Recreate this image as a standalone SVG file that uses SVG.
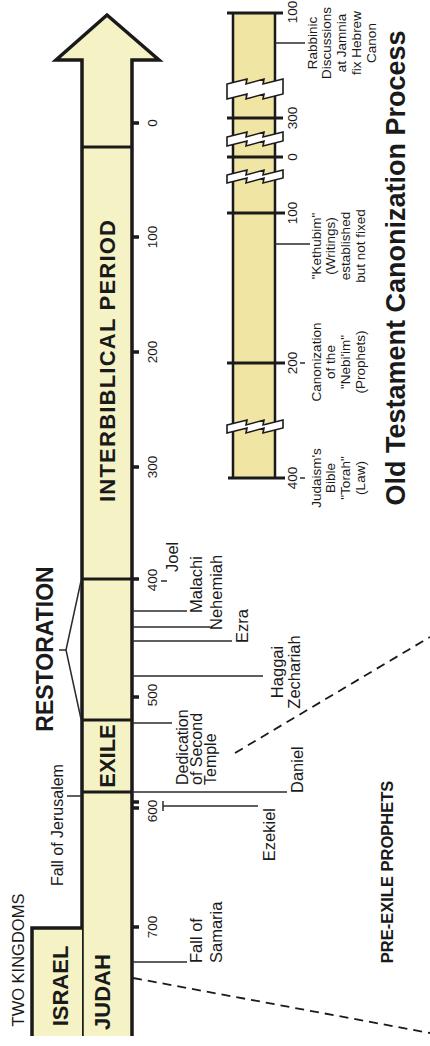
<svg xmlns="http://www.w3.org/2000/svg" width="430" height="1046" viewBox="0 0 430 1046">
<style>
.t{font-family:"Liberation Sans",Arial,sans-serif;fill:#1a1a1a}
.b{font-weight:bold}
.yr{font-size:13.5px;text-anchor:middle}
.ev{font-size:16.5px}
.cn{font-size:13.5px;text-anchor:middle}
.ln{stroke:#2a2a2a;stroke-width:1.5;fill:none}
.tk{stroke:#1a1a1a;stroke-width:3.5}
.dv{stroke:#1a1a1a;stroke-width:3}
.ds{stroke:#1a1a1a;stroke-width:1.8;stroke-dasharray:9 6;fill:none}
.bk{stroke:#1a1a1a;stroke-width:1.6;fill:#fff}
</style>
<rect width="430" height="1046" fill="#fff"/>
<g id="main-arrow">
<polygon points="82,1036 82,60 56,60 107,15 159,60 132,60 132,1036" fill="#f5f3c6"/>
<path d="M82,1036 L82,60 L56,60 L107,15 L159,60 L132,60 L132,1036" fill="none" stroke="#1a1a1a" stroke-width="3.5"/>
<line class="dv" x1="82" y1="147" x2="132" y2="147"/>
<line class="dv" x1="82" y1="579" x2="132" y2="579"/>
<line class="dv" x1="82" y1="720" x2="132" y2="720"/>
<line class="dv" x1="82" y1="792" x2="132" y2="792"/>
<text class="t b" font-size="22" text-anchor="middle" textLength="282" lengthAdjust="spacing" transform="translate(115,361) rotate(-90)">INTERBIBLICAL PERIOD</text>
<text class="t b" font-size="22" text-anchor="middle" transform="translate(115,756) rotate(-90)">EXILE</text>
<text class="t b" font-size="22" text-anchor="middle" transform="translate(110,992) rotate(-90)">JUDAH</text>
</g>
<g id="israel">
<rect x="32" y="928" width="50" height="108" fill="#f5f3c6"/>
<path d="M82,928 L32,928 L32,1036" fill="none" stroke="#1a1a1a" stroke-width="3.5"/>
<text class="t b" font-size="22" text-anchor="middle" transform="translate(68,986) rotate(-90)">ISRAEL</text>
</g>
<g id="labels-left">
<text class="t" font-size="16.5" text-anchor="middle" transform="translate(24,960) rotate(-90)">TWO KINGDOMS</text>
<text class="t" font-size="16" text-anchor="middle" transform="translate(63,825) rotate(-90)">Fall of Jerusalem</text>
<text class="t b" font-size="23" text-anchor="middle" transform="translate(53,649) rotate(-90)">RESTORATION</text>
</g>
<g id="years">
<line class="tk" x1="132" y1="123" x2="139" y2="123"/>
<line class="tk" x1="132" y1="237" x2="139" y2="237"/>
<line class="tk" x1="132" y1="352" x2="139" y2="352"/>
<line class="tk" x1="132" y1="467" x2="139" y2="467"/>
<line class="tk" x1="132" y1="579" x2="139" y2="579"/>
<line class="tk" x1="132" y1="697" x2="139" y2="697"/>
<line class="tk" x1="132" y1="802" x2="139" y2="802"/>
<line class="tk" x1="132" y1="808" x2="139" y2="808"/>
<line class="tk" x1="132" y1="927" x2="139" y2="927"/>
<text class="t yr" transform="translate(157,123) rotate(-90)">0</text>
<text class="t yr" transform="translate(157,237) rotate(-90)">100</text>
<text class="t yr" transform="translate(157,352) rotate(-90)">200</text>
<text class="t yr" transform="translate(157,467) rotate(-90)">300</text>
<text class="t yr" transform="translate(157,580) rotate(-90)">400</text>
<text class="t yr" transform="translate(157,695) rotate(-90)">500</text>
<text class="t yr" transform="translate(157,811) rotate(-90)">600</text>
<text class="t yr" transform="translate(157,927) rotate(-90)">700</text>
</g>
<g id="connectors">
<polyline class="ln" points="81,581 66,650 81,719"/>
<line class="ln" x1="59" y1="650" x2="66" y2="650"/>
<line class="ln" x1="67" y1="796" x2="82" y2="796"/>
<line class="ln" x1="161" y1="581" x2="167" y2="581"/>
<line class="ln" x1="132" y1="611" x2="187" y2="611"/>
<line class="ln" x1="132" y1="627" x2="210" y2="627"/>
<line class="ln" x1="132" y1="641" x2="232" y2="641"/>
<line class="ln" x1="132" y1="676" x2="263" y2="676"/>
<line class="ln" x1="132" y1="723" x2="172" y2="723"/>
<line class="ln" x1="132" y1="792" x2="287" y2="792"/>
<line class="ln" x1="163" y1="806" x2="258" y2="806"/>
<line class="ln" x1="163" y1="801" x2="163" y2="811"/>
<line class="ln" x1="132" y1="962" x2="187" y2="962"/>
<line class="ds" x1="133" y1="978" x2="430" y2="1033"/>
<line class="ds" x1="235" y1="753" x2="430" y2="637"/>
</g>
<g id="events">
<text class="t ev" transform="translate(178,572) rotate(-90)">Joel</text>
<text class="t ev" transform="translate(202,613) rotate(-90)">Malachi</text>
<text class="t ev" transform="translate(222,630) rotate(-90)">Nehemiah</text>
<text class="t ev" transform="translate(248,643) rotate(-90)">Ezra</text>
<text class="t ev" text-anchor="middle" transform="translate(283,672) rotate(-90)">Haggai</text>
<text class="t ev" text-anchor="middle" transform="translate(300,672) rotate(-90)">Zechariah</text>
<text class="t" font-size="16" transform="translate(188,785) rotate(-90)">Dedication</text>
<text class="t" font-size="16" transform="translate(202,785) rotate(-90)">of Second</text>
<text class="t" font-size="16" transform="translate(216,785) rotate(-90)">Temple</text>
<text class="t ev" transform="translate(303,793) rotate(-90)">Daniel</text>
<text class="t ev" text-anchor="end" transform="translate(275,808) rotate(-90)">Ezekiel</text>
<text class="t ev" transform="translate(202,963) rotate(-90)">Fall of</text>
<text class="t ev" transform="translate(222,963) rotate(-90)">Samaria</text>
<text class="t b" font-size="16.5" text-anchor="middle" transform="translate(393,872) rotate(-90)">PRE-EXILE PROPHETS</text>
</g>
<g id="canon-bar">
<rect x="233" y="13" width="42" height="465" fill="#f0e5a3"/>
<line stroke="#1a1a1a" stroke-width="2.5" x1="233" y1="13" x2="233" y2="478"/>
<line stroke="#1a1a1a" stroke-width="2.5" x1="275" y1="13" x2="275" y2="478"/>
<path class="bk" d="M227,84 L247,79 L246,84 L264,79 L263,84 L283,79 L283,94 L263,99 L264,94 L246,99 L247,94 L227,99 Z"/>
<path class="bk" d="M227,137 L247,132 L246,137 L264,132 L263,137 L283,132 L283,141 L263,146 L264,141 L246,146 L247,141 L227,146 Z"/>
<path class="bk" d="M227,175 L247,170 L246,175 L264,170 L263,175 L283,170 L283,178 L263,183 L264,178 L246,183 L247,178 L227,183 Z"/>
<path class="bk" d="M227,425 L247,420 L246,425 L264,420 L263,425 L283,420 L283,428 L263,433 L264,428 L246,433 L247,428 L227,433 Z"/>
<line class="dv" stroke-width="2" x1="227" y1="13" x2="283" y2="13"/>
<line class="dv" stroke-width="2" x1="227" y1="118" x2="283" y2="118"/>
<line class="dv" stroke-width="2" x1="227" y1="157" x2="283" y2="157"/>
<line class="dv" stroke-width="2" x1="227" y1="213" x2="285" y2="213"/>
<line class="dv" stroke-width="2" x1="227" y1="363" x2="285" y2="363"/>
<line class="dv" stroke-width="2" x1="228" y1="478" x2="285" y2="478"/>
<line class="ln" x1="275" y1="43" x2="305" y2="43"/>
<line class="ln" x1="275" y1="244" x2="310" y2="244"/>
<line class="ln" x1="300" y1="363" x2="305" y2="363"/>
<line class="ln" x1="300" y1="478" x2="305" y2="478"/>
<text class="t cn" transform="translate(297,12) rotate(-90)">100</text>
<text class="t cn" transform="translate(297,118) rotate(-90)">300</text>
<text class="t cn" transform="translate(297,157) rotate(-90)">0</text>
<text class="t cn" transform="translate(297,213) rotate(-90)">100</text>
<text class="t cn" transform="translate(297,363) rotate(-90)">200</text>
<text class="t cn" transform="translate(297,478) rotate(-90)">400</text>
</g>
<g id="canon-labels">
<text class="t cn" transform="translate(317,43) rotate(-90)">Rabbinic</text>
<text class="t cn" transform="translate(331,43) rotate(-90)">Discussions</text>
<text class="t cn" transform="translate(346,43) rotate(-90)">at Jamnia</text>
<text class="t cn" transform="translate(361,43) rotate(-90)">fix Hebrew</text>
<text class="t cn" transform="translate(376,43) rotate(-90)">Canon</text>
<text class="t cn" transform="translate(321,246) rotate(-90)">"Kethubim"</text>
<text class="t cn" transform="translate(335,246) rotate(-90)">(Writings)</text>
<text class="t cn" transform="translate(350,246) rotate(-90)">established</text>
<text class="t cn" transform="translate(365,246) rotate(-90)">but not fixed</text>
<text class="t cn" transform="translate(321,362) rotate(-90)">Canonization</text>
<text class="t cn" transform="translate(335,362) rotate(-90)">of the</text>
<text class="t cn" transform="translate(350,362) rotate(-90)">"Nebi'im"</text>
<text class="t cn" transform="translate(365,362) rotate(-90)">(Prophets)</text>
<text class="t cn" transform="translate(321,478) rotate(-90)">Judaism's</text>
<text class="t cn" transform="translate(335,478) rotate(-90)">Bible</text>
<text class="t cn" transform="translate(350,478) rotate(-90)">"Torah"</text>
<text class="t cn" transform="translate(365,478) rotate(-90)">(Law)</text>
<text class="t b" font-size="27" text-anchor="middle" transform="translate(405,268) rotate(-90)">Old Testament Canonization Process</text>
</g>
</svg>
